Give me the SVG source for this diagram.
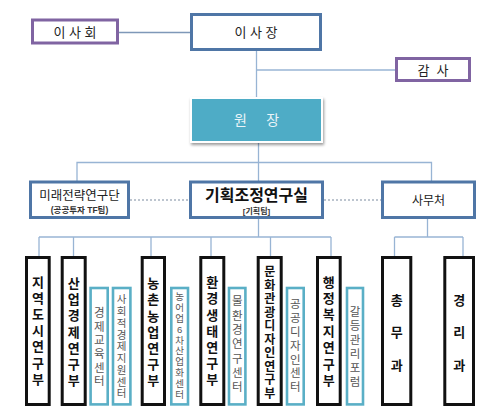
<svg xmlns="http://www.w3.org/2000/svg" width="500" height="419" viewBox="0 0 500 419">
<defs>
<style>
.bg{fill:#ffffff}
.pur{fill:#fff;stroke:#8064A2;stroke-width:3}
.blu{fill:#fff;stroke:#4F76A6;stroke-width:3}
.dept{fill:#fff;stroke:#111;stroke-width:3}
.ctr{fill:#fff;stroke:#5AAFC6;stroke-width:2.6}
.ln{stroke:#98B4D4;stroke-width:1.3;fill:none}
.ln2{stroke:#7E98B8;stroke-width:1.3;fill:none}
.dot{stroke:#A8B2C0;stroke-width:1.3;stroke-dasharray:2 2;fill:none}
text{font-family:"Liberation Sans","Noto Sans CJK KR",sans-serif;text-anchor:middle}
.t13{font-size:13px;fill:#222}
.dt{font-size:13px;font-weight:bold;fill:#111}
.ct{font-size:11.5px;fill:#555}
</style>
<filter id="sh" x="-10%" y="-10%" width="130%" height="140%">
<feGaussianBlur in="SourceAlpha" stdDeviation="1.5"/>
<feOffset dx="1" dy="2"/>
<feComponentTransfer><feFuncA type="linear" slope="0.4"/></feComponentTransfer>
<feMerge><feMergeNode/><feMergeNode in="SourceGraphic"/></feMerge>
</filter>
</defs>
<rect class="bg" width="500" height="419"/>

<g id="connectors">
<line class="ln2" x1="119" y1="32.5" x2="190" y2="32.5"/>
<line class="ln" x1="256.5" y1="51" x2="256.5" y2="97"/>
<line class="ln" x1="256.5" y1="70" x2="395" y2="70"/>
<line class="ln" x1="258.5" y1="143" x2="258.5" y2="181"/>
<polyline class="ln" points="77,181 77,162.5 431.5,162.5 431.5,181"/>
<line class="dot" x1="130" y1="200" x2="189" y2="200"/>
<line class="dot" x1="324" y1="200" x2="381" y2="200"/>
<line class="ln" x1="258.5" y1="219" x2="258.5" y2="237"/>
<line class="ln" x1="39" y1="237" x2="331" y2="237"/>
<line class="ln" x1="39" y1="237" x2="39" y2="256"/>
<line class="ln" x1="73.5" y1="237" x2="73.5" y2="256"/>
<line class="ln" x1="151" y1="237" x2="151" y2="256"/>
<line class="ln" x1="211" y1="237" x2="211" y2="256"/>
<line class="ln" x1="270.5" y1="237" x2="270.5" y2="256"/>
<line class="ln" x1="331" y1="237" x2="331" y2="256"/>
<line class="ln" x1="427.5" y1="219" x2="427.5" y2="237"/>
<line class="ln" x1="394.5" y1="237" x2="463" y2="237"/>
<line class="ln" x1="394.5" y1="237" x2="394.5" y2="256"/>
<line class="ln" x1="463" y1="237" x2="463" y2="256"/>
</g>

<g id="board">
<rect class="pur" x="32.5" y="20" width="85" height="23"/>
<text class="t13" x="75" y="37" xml:space="preserve">이 사 회</text>
</g>
<g id="chairman">
<rect class="blu" x="191.5" y="14.5" width="129" height="35"/>
<text class="t13" x="256" y="37" xml:space="preserve">이 사 장</text>
</g>
<g id="auditor">
<rect class="pur" x="396.5" y="58.5" width="73" height="22"/>
<text class="t13" x="433" y="74.5" xml:space="preserve">감  사</text>
</g>
<g id="president">
<rect x="190" y="97" width="133" height="46" fill="#fff" filter="url(#sh)"/>
<rect x="192" y="99" width="129" height="42" fill="#4EACC6"/>
<text x="256.5" y="125" style="font-size:14px;fill:#EAF4F8" xml:space="preserve">원     장</text>
</g>
<g id="future">
<rect class="blu" x="30.5" y="182" width="98" height="35.5"/>
<text x="79.5" y="199.5" style="font-size:12.5px;fill:#222">미래전략연구단</text>
<text x="79.5" y="212.5" style="font-size:8.5px;font-weight:bold;fill:#333">(공공투자 TF팀)</text>
</g>
<g id="planning">
<rect class="blu" x="190.5" y="182" width="132" height="35.5"/>
<text x="256.5" y="200.5" style="font-size:16px;font-weight:bold;fill:#111">기획조정연구실</text>
<text x="256.5" y="213.5" style="font-size:8px;font-weight:bold;fill:#333">[기획팀]</text>
</g>
<g id="office">
<rect class="blu" x="382.5" y="182" width="92" height="35.5"/>
<text x="428.5" y="205" style="font-size:12px;fill:#222">사무처</text>
</g>

<g id="d1">
<rect class="dept" x="26.5" y="257.5" width="22.7" height="147"/>
<text class="dt"><tspan x="37.9" y="286.6">지</tspan><tspan x="37.9" y="302.8">역</tspan><tspan x="37.9" y="319">도</tspan><tspan x="37.9" y="335.2">시</tspan><tspan x="37.9" y="351.4">연</tspan><tspan x="37.9" y="367.6">구</tspan><tspan x="37.9" y="383.8">부</tspan></text>
</g>
<g id="d2">
<rect class="dept" x="62.2" y="257.5" width="23" height="147"/>
<text class="dt"><tspan x="73.7" y="287.9">산</tspan><tspan x="73.7" y="304.1">업</tspan><tspan x="73.7" y="320.3">경</tspan><tspan x="73.7" y="336.5">제</tspan><tspan x="73.7" y="352.7">연</tspan><tspan x="73.7" y="368.9">구</tspan><tspan x="73.7" y="385.1">부</tspan></text>
</g>
<g id="c1">
<rect class="ctr" x="90.6" y="288" width="17.1" height="116.4"/>
<text class="ct"><tspan x="99.2" y="317.1">경</tspan><tspan x="99.2" y="330.7">제</tspan><tspan x="99.2" y="344.3">교</tspan><tspan x="99.2" y="357.9">육</tspan><tspan x="99.2" y="371.5">센</tspan><tspan x="99.2" y="385.1">터</tspan></text>
</g>
<g id="c2">
<rect class="ctr" x="113" y="288" width="17.4" height="116.4"/>
<text class="ct" style="font-size:10.5px"><tspan x="121.7" y="303.3">사</tspan><tspan x="121.7" y="315.05">회</tspan><tspan x="121.7" y="326.8">적</tspan><tspan x="121.7" y="338.55">경</tspan><tspan x="121.7" y="350.3">제</tspan><tspan x="121.7" y="362.05">지</tspan><tspan x="121.7" y="373.8">원</tspan><tspan x="121.7" y="385.55">센</tspan><tspan x="121.7" y="397.3">터</tspan></text>
</g>
<g id="d3">
<rect class="dept" x="142.2" y="257.5" width="22.3" height="147"/>
<text class="dt"><tspan x="153.3" y="288.2">농</tspan><tspan x="153.3" y="304.4">촌</tspan><tspan x="153.3" y="320.6">농</tspan><tspan x="153.3" y="336.8">업</tspan><tspan x="153.3" y="353">연</tspan><tspan x="153.3" y="369.2">구</tspan><tspan x="153.3" y="385.4">부</tspan></text>
</g>
<g id="c3">
<rect class="ctr" x="171.3" y="288" width="16.7" height="116.4"/>
<text class="ct" style="font-size:9.5px"><tspan x="179.7" y="300.3">농</tspan><tspan x="179.7" y="311.1">어</tspan><tspan x="179.7" y="321.9">업</tspan><tspan x="179.7" y="332.7">6</tspan><tspan x="179.7" y="343.5">차</tspan><tspan x="179.7" y="354.3">산</tspan><tspan x="179.7" y="365.1">업</tspan><tspan x="179.7" y="375.9">화</tspan><tspan x="179.7" y="386.7">센</tspan><tspan x="179.7" y="397.5">터</tspan></text>
</g>
<g id="d4">
<rect class="dept" x="200.8" y="257.5" width="23" height="147"/>
<text class="dt"><tspan x="212.3" y="287.2">환</tspan><tspan x="212.3" y="303.4">경</tspan><tspan x="212.3" y="319.6">생</tspan><tspan x="212.3" y="335.8">태</tspan><tspan x="212.3" y="352">연</tspan><tspan x="212.3" y="368.2">구</tspan><tspan x="212.3" y="384.4">부</tspan></text>
</g>
<g id="c4">
<rect class="ctr" x="229" y="288" width="16.4" height="116.4"/>
<text class="ct"><tspan x="237.2" y="305.4">물</tspan><tspan x="237.2" y="319.7">환</tspan><tspan x="237.2" y="334">경</tspan><tspan x="237.2" y="348.3">연</tspan><tspan x="237.2" y="362.6">구</tspan><tspan x="237.2" y="376.9">센</tspan><tspan x="237.2" y="391.2">터</tspan></text>
</g>
<g id="d5">
<rect class="dept" x="258.2" y="257.5" width="23" height="147"/>
<text class="dt" style="font-size:12px"><tspan x="269.7" y="276.3">문</tspan><tspan x="269.7" y="289.8">화</tspan><tspan x="269.7" y="303.3">관</tspan><tspan x="269.7" y="316.8">광</tspan><tspan x="269.7" y="330.3">디</tspan><tspan x="269.7" y="343.8">자</tspan><tspan x="269.7" y="357.3">인</tspan><tspan x="269.7" y="370.8">연</tspan><tspan x="269.7" y="384.3">구</tspan><tspan x="269.7" y="397.8">부</tspan></text>
</g>
<g id="c5">
<rect class="ctr" x="287" y="288" width="16.7" height="116.4"/>
<text class="ct"><tspan x="295.3" y="308.4">공</tspan><tspan x="295.3" y="322.2">공</tspan><tspan x="295.3" y="336">디</tspan><tspan x="295.3" y="349.8">자</tspan><tspan x="295.3" y="363.6">인</tspan><tspan x="295.3" y="377.4">센</tspan><tspan x="295.3" y="391.2">터</tspan></text>
</g>
<g id="d6">
<rect class="dept" x="317.5" y="257.5" width="22.7" height="147"/>
<text class="dt"><tspan x="328.8" y="286.6">행</tspan><tspan x="328.8" y="303">정</tspan><tspan x="328.8" y="319.4">복</tspan><tspan x="328.8" y="335.8">지</tspan><tspan x="328.8" y="352.2">연</tspan><tspan x="328.8" y="368.6">구</tspan><tspan x="328.8" y="385">부</tspan></text>
</g>
<g id="c6">
<rect class="ctr" x="347" y="288" width="16" height="116.4"/>
<text class="ct"><tspan x="355" y="316.1">갈</tspan><tspan x="355" y="330.1">등</tspan><tspan x="355" y="344.1">관</tspan><tspan x="355" y="358.1">리</tspan><tspan x="355" y="372.1">포</tspan><tspan x="355" y="386.1">럼</tspan></text>
</g>
<g id="d7">
<rect class="dept" x="382.5" y="257.5" width="28.3" height="147"/>
<text class="dt"><tspan x="396.7" y="304.9">총</tspan><tspan x="396.7" y="337.4">무</tspan><tspan x="396.7" y="369.9">과</tspan></text>
</g>
<g id="d8">
<rect class="dept" x="444.8" y="257.5" width="28.7" height="147"/>
<text class="dt"><tspan x="459.2" y="304.9">경</tspan><tspan x="459.2" y="337.4">리</tspan><tspan x="459.2" y="369.9">과</tspan></text>
</g>
</svg>
